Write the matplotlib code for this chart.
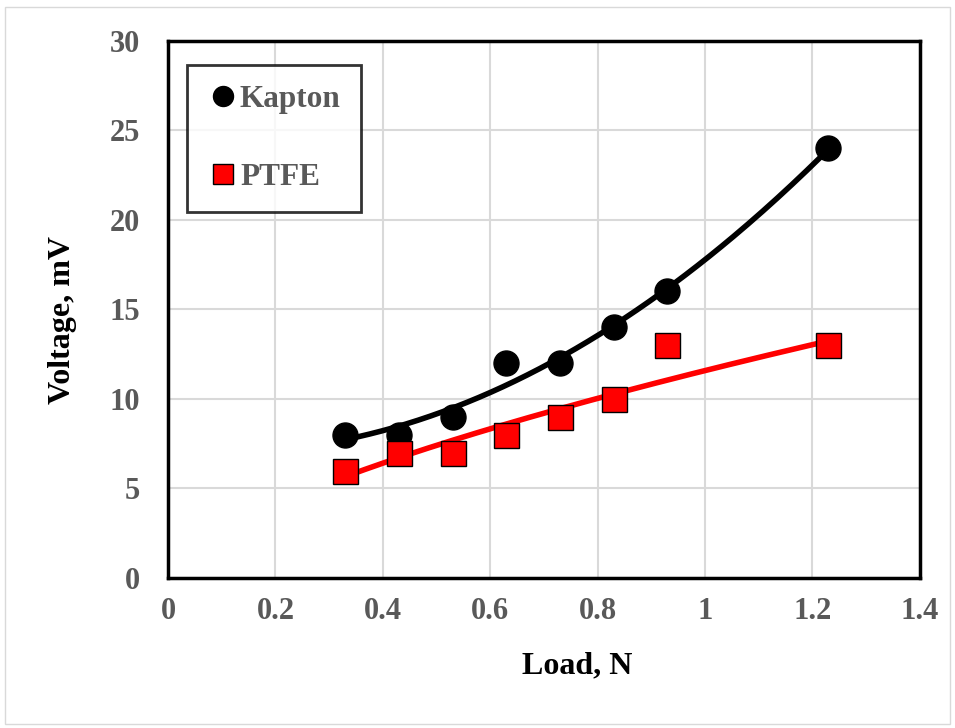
import numpy as np
import matplotlib
matplotlib.use('Agg')
import matplotlib.pyplot as plt
from matplotlib.patches import Rectangle

plt.rcParams['font.family'] = ['Liberation Serif', 'DejaVu Serif']
plt.rcParams['font.weight'] = 'bold'

load = [0.33, 0.43, 0.53, 0.63, 0.73, 0.83, 0.93, 1.23]
kapton = [8, 8, 9, 12, 12, 14, 16, 24]
ptfe = [6, 7, 7, 8, 9, 10, 13, 13]

x = np.array(load)
xs = np.linspace(x.min(), x.max(), 200)

# trendlines: polynomial (Kapton), power (PTFE)
k_fit = np.polyval(np.polyfit(x, kapton, 2), xs)
b, lna = np.polyfit(np.log(x), np.log(ptfe), 1)
p_fit = np.exp(lna) * xs ** b

fig = plt.figure(figsize=(9.55, 7.28), dpi=100)
ax = fig.add_axes([0.176, 0.206, 0.787, 0.738])

gray = '#595959'
ax.plot(xs, k_fit, color='black', lw=4, zorder=3)
ax.plot(xs, p_fit, color='#ff0000', lw=4, zorder=3)
ax.plot(x, kapton, 'o', color='black', ms=18, zorder=4, label='Kapton')
ax.plot(x, ptfe, 's', color='#ff0000', mec='black', mew=1, ms=18, zorder=4, label='PTFE')

ax.set_xlim(0, 1.4)
ax.set_ylim(0, 30)
ax.set_xticks(np.arange(0, 1.41, 0.2))
ax.set_xticklabels(['0', '0.2', '0.4', '0.6', '0.8', '1', '1.2', '1.4'])
ax.set_yticks(range(0, 31, 5))
ax.grid(True, color='#d9d9d9', lw=1.5)
ax.set_axisbelow(True)
ax.tick_params(length=0, labelsize=22, labelcolor=gray)
ax.tick_params(axis='x', pad=14)
ax.tick_params(axis='y', pad=20)
for lab in ax.get_xticklabels() + ax.get_yticklabels():
    lab.set_fontweight('bold')
for s in ax.spines.values():
    s.set_color('black')
    s.set_linewidth(2.5)

ax.set_xlabel('Load, N', fontsize=23, fontweight='bold', va='center')
ax.xaxis.set_label_coords(0.544, -0.163)
ax.set_ylabel('Voltage, mV', fontsize=23, fontweight='bold', va='center')
ax.yaxis.set_label_coords(-0.141, 0.48)

leg = ax.legend(loc='upper left', bbox_to_anchor=(0.025, 0.955), fontsize=22.5,
                frameon=True, fancybox=False, edgecolor='black', handletextpad=0.05,
                markerscale=0.8, labelspacing=1.55, borderpad=0.65, handlelength=1.0,
                borderaxespad=0)
leg.get_frame().set_linewidth(2)
for t in leg.get_texts():
    t.set_color(gray)
    t.set_fontweight('bold')

fig.add_artist(Rectangle((0.005, 0.005), 0.99, 0.985, transform=fig.transFigure,
                         fill=False, edgecolor='#d9d9d9', lw=1))

fig.savefig('out.png', dpi=100)
